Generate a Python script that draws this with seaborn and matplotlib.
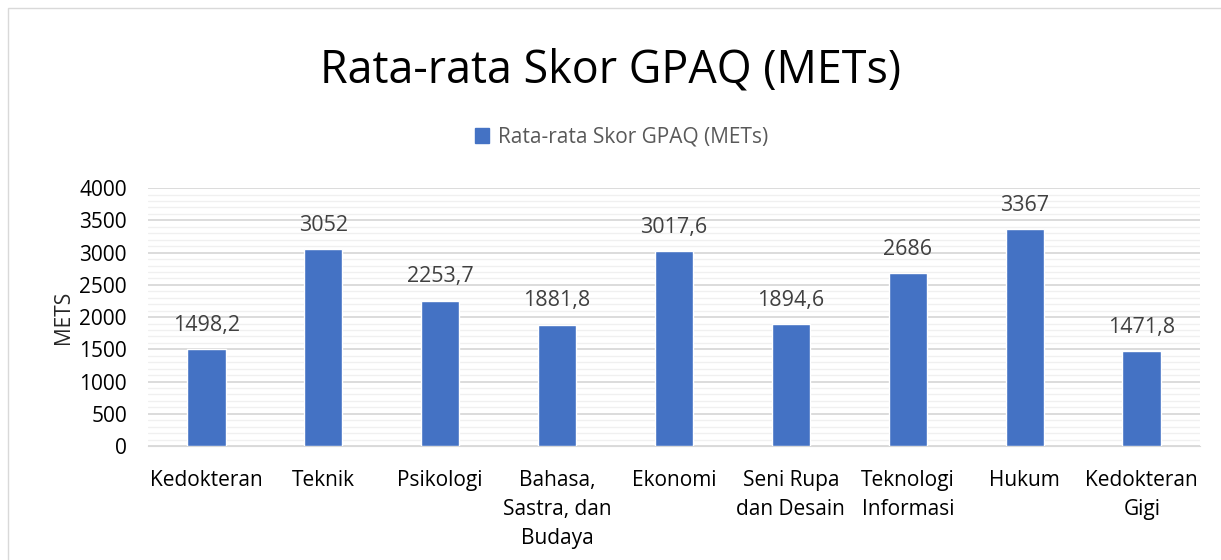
import matplotlib
matplotlib.use('Agg')
import matplotlib.pyplot as plt
import matplotlib.patches as mpatches
import pandas as pd
import seaborn as sns
from matplotlib.ticker import MultipleLocator

fakultas = ['Kedokteran', 'Teknik', 'Psikologi', 'Bahasa,\nSastra, dan\nBudaya', 'Ekonomi',
            'Seni Rupa\ndan Desain', 'Teknologi\nInformasi', 'Hukum', 'Kedokteran\nGigi']
skor = [1498.2, 3052, 2253.7, 1881.8, 3017.6, 1894.6, 2686, 3367, 1471.8]
label_skor = ['1498,2', '3052', '2253,7', '1881,8', '3017,6', '1894,6', '2686', '3367', '1471,8']

df = pd.DataFrame({'fakultas': fakultas, 'skor': skor})

sns.set_style('white')
plt.rcParams['font.family'] = ['Open Sans', 'DejaVu Sans']

fig = plt.figure(figsize=(12.21, 5.6), dpi=100)
ax = fig.add_axes([0.121, 0.2036, 0.862, 0.4604])

biru = '#4472C4'
sns.barplot(data=df, x='fakultas', y='skor', color=biru, saturation=1, width=0.33,
            ax=ax, zorder=3)

for i, (v, t) in enumerate(zip(skor, label_skor)):
    ax.text(i, v + 370, t, ha='center', va='center', fontsize=15.5, color='#404040')

ax.set_ylim(0, 4000)
ax.set_xlim(-0.5, len(fakultas) - 0.5)
ax.yaxis.set_major_locator(MultipleLocator(500))
ax.yaxis.set_minor_locator(MultipleLocator(100))
ax.grid(axis='y', which='major', color='#D9D9D9', linewidth=1.3, zorder=0)
ax.grid(axis='y', which='minor', color='#F0F0F0', linewidth=1.0, zorder=0)
for s in ['top', 'right', 'left']:
    ax.spines[s].set_visible(False)
ax.spines['bottom'].set_color('#D9D9D9')
ax.tick_params(axis='both', length=0, labelsize=15, colors='black')
ax.tick_params(axis='y', pad=15)
ax.tick_params(axis='x', pad=17.5)
for lbl in ax.get_xticklabels():
    lbl.set_linespacing(1.5)
ax.set_xlabel('')
ax.set_ylabel('METS', fontsize=15, labelpad=4)

fig.text(0.5, 0.875, 'Rata-rata Skor GPAQ (METs)', ha='center', va='center',
         fontsize=32.3, color='black')

legend_patch = mpatches.Patch(color=biru, label='Rata-rata Skor GPAQ (METs)')
fig.legend(handles=[legend_patch], loc='center', bbox_to_anchor=(0.509, 0.755),
           frameon=False, fontsize=15, handlelength=0.7, handleheight=0.7,
           handletextpad=0.4, labelcolor='#595959')

fig.patches.append(mpatches.Rectangle((8 / 1221, -0.1), 1.2, 1 - 8 / 560 + 0.1,
                                      transform=fig.transFigure, fill=False,
                                      edgecolor='#D9D9D9', linewidth=1))

fig.savefig('out.png', dpi=100, facecolor='white')
